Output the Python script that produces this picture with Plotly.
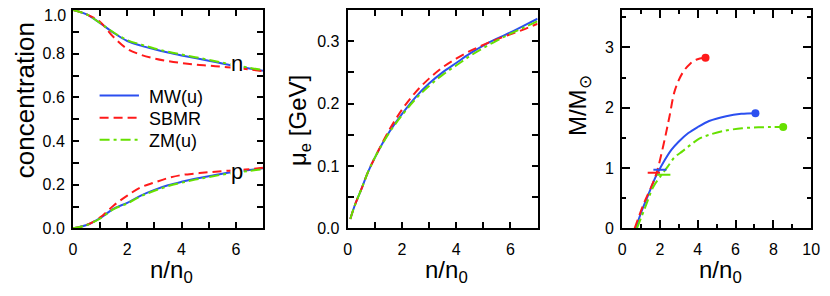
import plotly.graph_objects as go

# ---------------- data ----------------
# Panel 1: concentration vs n/n0
conc_x = [0, 0.5, 1, 1.5, 2, 2.5, 3, 3.5, 4, 4.5, 5, 5.5, 6, 6.5, 7]
mw_n = [1.0, 0.98, 0.94, 0.895, 0.858, 0.837, 0.82, 0.805, 0.792, 0.78, 0.768, 0.755, 0.743, 0.732, 0.722]
sbmr_n = [1.0, 0.98, 0.945, 0.875, 0.822, 0.795, 0.778, 0.766, 0.757, 0.75, 0.745, 0.74, 0.735, 0.728, 0.72]
zm_n = [1.0, 0.98, 0.94, 0.897, 0.862, 0.842, 0.824, 0.809, 0.796, 0.784, 0.772, 0.759, 0.747, 0.735, 0.725]
mw_p = [0, 0.015, 0.047, 0.09, 0.117, 0.15, 0.176, 0.197, 0.213, 0.227, 0.239, 0.25, 0.259, 0.267, 0.275]
sbmr_p = [0, 0.015, 0.05, 0.105, 0.15, 0.188, 0.21, 0.23, 0.244, 0.251, 0.257, 0.262, 0.266, 0.271, 0.278]
zm_p = [0, 0.014, 0.045, 0.088, 0.114, 0.147, 0.172, 0.193, 0.209, 0.223, 0.235, 0.246, 0.255, 0.263, 0.271]
conc_ticks = [0.0, 0.2, 0.4, 0.6, 0.8]
conc_top_label = "1.0"

# Panel 2: electron chemical potential
mu_x = [0.1, 0.25, 0.5, 0.75, 1, 1.5, 2, 2.5, 3, 3.5, 4, 4.5, 5, 5.5, 6, 6.5, 7]
mw_mu = [0.015, 0.035, 0.062, 0.09, 0.113, 0.152, 0.183, 0.21, 0.232, 0.25, 0.265, 0.28, 0.293, 0.304, 0.314, 0.325, 0.336]
sbmr_mu = [0.015, 0.035, 0.062, 0.09, 0.113, 0.155, 0.19, 0.218, 0.24, 0.258, 0.272, 0.284, 0.294, 0.303, 0.311, 0.319, 0.328]
zm_mu = [0.015, 0.035, 0.062, 0.09, 0.113, 0.151, 0.181, 0.207, 0.228, 0.246, 0.261, 0.276, 0.289, 0.301, 0.312, 0.322, 0.332]

# Panel 3: mass vs central density
mw_mx = [0.72, 1.0, 1.4, 1.75, 2.1, 2.6, 3.0, 3.5, 4.0, 4.6, 5.5, 6.3, 7.05]
mw_m = [0, 0.26, 0.57, 0.84, 1.05, 1.30, 1.44, 1.58, 1.68, 1.78, 1.86, 1.90, 1.91]
sbmr_mx = [0.66, 1.13, 1.65, 1.85, 2.05, 2.3, 2.5, 2.8, 3.2, 3.6, 3.95, 4.41]
sbmr_m = [0, 0.40, 0.77, 0.95, 1.2, 1.55, 1.85, 2.3, 2.58, 2.73, 2.8, 2.83]
zm_mx = [0.78, 1.22, 1.65, 2.0, 2.4, 2.78, 3.2, 3.6, 4.1, 4.6, 5.3, 6.35, 7.2, 7.92, 8.52]
zm_m = [0, 0.35, 0.69, 0.85, 1.02, 1.18, 1.28, 1.38, 1.49, 1.55, 1.61, 1.66, 1.675, 1.68, 1.68]
# short horizontal markers
sbmr_stub_x = [1.35, 2.0]
sbmr_stub_m = [0.92, 0.92]
mw_stub_x = [1.65, 2.34]
mw_stub_m = [0.97, 0.97]
zm_stub_x = [1.85, 2.55]
zm_stub_m = [0.89, 0.89]

names = ["MW(u)", "SBMR", "ZM(u)"]
colors = ["#2b4ff0", "#ff1a1a", "#66e000"]
dashes = ["solid", "9px,5px", "10px,4px,3px,4px"]

FONT = "Liberation Sans, Arial, Helvetica, sans-serif"
# the page body adds an 8px margin; the figure fills the rest of the 830x296 window
OFF = 8
W, H = 830 - OFF, 296 - OFF

fig = go.Figure()

def add(x, y, i, xa, ya, shape="spline"):
    fig.add_trace(go.Scatter(
        x=x, y=y, mode="lines", name=names[i], showlegend=False,
        line=dict(color=colors[i], width=2, dash=dashes[i], shape=shape),
        xaxis=xa, yaxis=ya))

# panel 1
add(conc_x, mw_n, 0, "x", "y")
add(conc_x, sbmr_n, 1, "x", "y")
add(conc_x, zm_n, 2, "x", "y")
add(conc_x, mw_p, 0, "x", "y")
add(conc_x, sbmr_p, 1, "x", "y")
add(conc_x, zm_p, 2, "x", "y")
# panel 2
add(mu_x, mw_mu, 0, "x2", "y2")
add(mu_x, sbmr_mu, 1, "x2", "y2")
add(mu_x, zm_mu, 2, "x2", "y2")
# panel 3
for i, (xx, yy) in enumerate([(mw_mx, mw_m), (sbmr_mx, sbmr_m), (zm_mx, zm_m)]):
    add(xx, yy, i, "x3", "y3")
    fig.add_trace(go.Scatter(x=[xx[-1]], y=[yy[-1]], mode="markers", showlegend=False,
                             marker=dict(color=colors[i], size=8),
                             xaxis="x3", yaxis="y3"))
for i, (xx, yy) in enumerate([(mw_stub_x, mw_stub_m), (sbmr_stub_x, sbmr_stub_m), (zm_stub_x, zm_stub_m)]):
    fig.add_trace(go.Scatter(x=xx, y=yy, mode="lines", showlegend=False,
                             line=dict(color=colors[i], width=2),
                             xaxis="x3", yaxis="y3"))

def px2fx(p):
    return (p - OFF) / W

def py2fy(p):
    return 1 - (p - OFF) / H

ydom = [py2fy(235), py2fy(8)]
axstyle = dict(showline=True, linecolor="black", linewidth=2, mirror="allticks",
               ticks="inside", tickcolor="black", tickwidth=2, showgrid=False,
               zeroline=False, tickfont=dict(family=FONT, size=16, color="black"),
               ticklabeloverflow="allow", fixedrange=True)
xstand = dict(ticklabelstandoff=5)
ystand = dict(ticklabelstandoff=3)

fig.update_layout(
    width=W, height=H, margin=dict(l=0, r=0, t=0, b=0),
    paper_bgcolor="white", plot_bgcolor="white",
    font=dict(family=FONT, color="black"),
    showlegend=False,
    xaxis=dict(domain=[px2fx(70), px2fx(263)], range=[0, 7], dtick=2, ticklen=6,
               minor=dict(dtick=1, ticklen=6, tickwidth=2, tickcolor="black", ticks="inside"),
               anchor="y", **axstyle, **xstand),
    yaxis=dict(domain=ydom, range=[0, 1.0], tickmode="array", tickvals=conc_ticks,
               tickformat=".1f", ticklen=6,
               minor=dict(dtick=0.1, ticklen=6, tickwidth=2, tickcolor="black", ticks="inside"),
               anchor="x", **axstyle, **ystand),
    xaxis2=dict(domain=[px2fx(349), px2fx(542)], range=[0, 7], dtick=2, ticklen=6,
                minor=dict(dtick=1, ticklen=6, tickwidth=2, tickcolor="black", ticks="inside"),
                anchor="y2", **axstyle, **xstand),
    yaxis2=dict(domain=ydom, range=[0, 0.35], dtick=0.1, tickformat=".1f", ticklen=6,
                minor=dict(dtick=0.05, ticklen=6, tickwidth=2, tickcolor="black", ticks="inside"),
                anchor="x2", **axstyle, **ystand),
    xaxis3=dict(domain=[px2fx(628), px2fx(820)], range=[0, 10.0001], dtick=2, ticklen=8,
                minor=dict(dtick=1, ticklen=4, tickwidth=2, tickcolor="black", ticks="inside"),
                anchor="y3", **axstyle, **xstand),
    yaxis3=dict(domain=ydom, range=[0, 3.62], dtick=1, ticklen=8,
                minor=dict(dtick=0.5, ticklen=4, tickwidth=2, tickcolor="black", ticks="inside"),
                anchor="x3", **axstyle, **ystand),
)

ann = []
shapes = []
TF = dict(family=FONT, size=24, color="black")
# top tick label of panel 1 (nudged down so it stays inside the page)
ann.append(dict(text=conc_top_label, x=px2fx(65), y=py2fy(14), xref="paper", yref="paper",
                showarrow=False, xanchor="right", yanchor="middle",
                font=dict(family=FONT, size=16, color="black")))
# legend (drawn as key lines + labels inside panel 1)
for i, ly in enumerate([97, 120, 143]):
    shapes.append(dict(type="line", xref="paper", yref="paper",
                       x0=px2fx(97), x1=px2fx(137), y0=py2fy(ly), y1=py2fy(ly),
                       line=dict(color=colors[i], width=2, dash=dashes[i])))
    ann.append(dict(text=names[i], x=px2fx(145), y=py2fy(ly + 1), xref="paper", yref="paper",
                    showarrow=False, xanchor="left", yanchor="middle",
                    font=dict(family=FONT, size=18, color="black")))
# x titles
for cx in [(70 + 263) / 2, (349 + 542) / 2, (628 + 820) / 2]:
    ann.append(dict(text="n/n<sub>0</sub>", x=px2fx(cx + 4), y=py2fy(280), xref="paper", yref="paper",
                    showarrow=False, font=TF, xanchor="center", yanchor="middle"))
# y titles
ann.append(dict(text="concentration", x=px2fx(22), y=py2fy(102), xref="paper", yref="paper",
                showarrow=False, font=dict(family=FONT, size=26, color="black"),
                textangle=-90, xanchor="center", yanchor="middle"))
ann.append(dict(text="μ<sub>e</sub> [GeV]", x=px2fx(300), y=py2fy(123), xref="paper", yref="paper",
                showarrow=False, font=TF, textangle=-90, xanchor="center", yanchor="middle"))
ann.append(dict(text="M/M<sub>⊙</sub>", x=px2fx(584), y=py2fy(107), xref="paper", yref="paper",
                showarrow=False, font=TF, textangle=-90, xanchor="center", yanchor="middle"))
# n / p labels
ann.append(dict(text="n", x=6.05, y=0.755, xref="x", yref="y", showarrow=False,
                font=dict(family=FONT, size=22, color="black"), bgcolor="white", borderpad=0))
ann.append(dict(text="p", x=6.05, y=0.26, xref="x", yref="y", showarrow=False,
                font=dict(family=FONT, size=22, color="black"), bgcolor="white", borderpad=0))
fig.update_layout(annotations=ann, shapes=shapes)

fig.write_html("out.html")
